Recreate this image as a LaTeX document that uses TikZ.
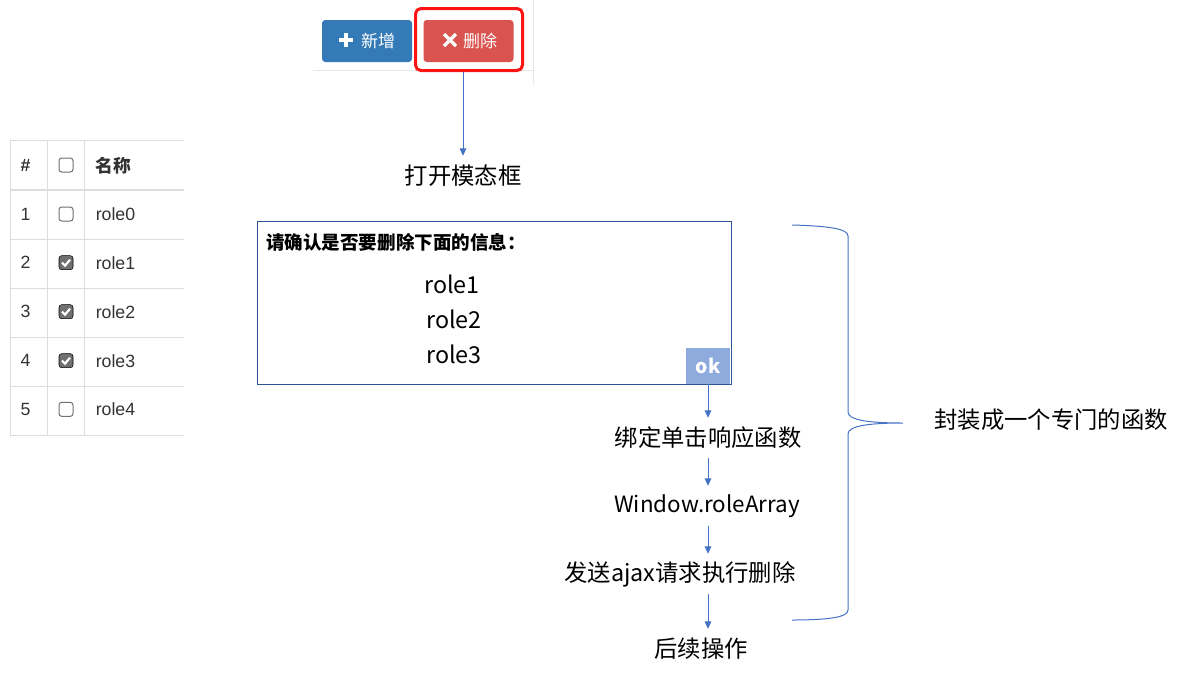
\documentclass[tikz,border=0pt]{standalone}
\usepackage{fontspec}
\setmainfont{Liberation Sans}
\newfontfamily\cjk{Noto Sans CJK SC}
\usetikzlibrary{arrows.meta}

\definecolor{flowblue}{RGB}{68,114,196}
\definecolor{modalblue}{RGB}{47,85,151}
\definecolor{okblue}{RGB}{143,170,220}
\definecolor{btnblue}{RGB}{51,122,183}
\definecolor{btnred}{RGB}{217,83,79}
\definecolor{hired}{RGB}{255,20,20}
\definecolor{tblgray}{RGB}{221,221,221}
\definecolor{tbltext}{RGB}{51,51,51}
\definecolor{framegray}{RGB}{232,232,232}
\definecolor{chkgray}{RGB}{112,112,112}

\begin{document}
\begin{tikzpicture}[x=0.75pt,y=0.75pt,yscale=-1,xscale=1,
  lbl/.style={font=\cjk\fontsize{17.5}{20}\selectfont, inner sep=0pt, minimum height=30pt},
  flow/.style={draw=flowblue, line width=0.75pt, -{Triangle[length=5.5pt,width=5pt]}},
  tblline/.style={draw=tblgray, line width=0.75pt},
  cell/.style={font=\fontsize{13.3}{15}\selectfont, text=tbltext, inner sep=0pt},
  btn/.style={rounded corners=2.5pt, minimum width=67.5pt, minimum height=31.5pt, inner sep=0pt},
  btntext/.style={text=white, inner sep=0pt, font=\cjk\fontsize{12.75}{14}\selectfont},
  boxoff/.style={draw=chkgray, fill=white, line width=0.75pt, rounded corners=2pt},
  boxon/.style={fill=chkgray, rounded corners=2pt}
]
\useasboundingbox (0,0) rectangle (1186,679);

%Toolbar frame
\draw [framegray, line width=0.75pt] (313,70) -- (533,70) ;
\draw [framegray, line width=0.75pt] (533,0) -- (533,85) ;

%Buttons
\draw (367,41) node (addbtn) [btn, fill=btnblue] {} ;
\draw [white, line width=3pt] (339,40) -- (353,40) (346,33) -- (346,47) ;
\draw (378,41) node (addlbl) [btntext] {新增} ;
\draw (468.5,41) node (delbtn) [btn, fill=btnred] {} ;
\draw [white, line width=2.6pt] (444,34) -- (456,46) (444,46) -- (456,34) ;
\draw (480,41) node (dellbl) [btntext] {删除} ;
%Highlight
\draw [hired, line width=2.25pt, rounded corners=4pt] (415.5,8.5) rectangle (522.5,70.5) ;
\coordinate (hilitebot) at (463,71.5) ;

% Text Node
\draw (463,176) node (opendlg) [lbl] {打开模态框} ;
\draw [flow] (hilitebot) -- (hilitebot |- opendlg.north) ;

%Table
\foreach \y in {140,239,288,337,386,435} \draw [tblline] (10,\y) -- (184,\y) ;
\draw [tblline, line width=1.5pt] (10,189.5) -- (184,189.5) ;
\foreach \x in {10,47.5,84.5} \draw [tblline] (\x,140) -- (\x,435) ;
\draw (25.5,165.5) node (hdnum) [cell, font={\fontsize{13.3}{15}\selectfont\bfseries}] {\#} ;
\draw [boxoff] (59,158) rectangle (73,172) ;
\draw (95.5,165.5) node (hdname) [cell, anchor=west, font=\cjk\bfseries\fontsize{13.3}{15}\selectfont] {名称} ;
\foreach \n/\y/\chk in {1/214/0, 2/262.7/1, 3/311.7/1, 4/360.7/1, 5/409.3/0} {
  \pgfmathtruncatemacro{\r}{\n-1}
  \draw (25.5,\y) node (num\n) [cell] {\n} ;
  \ifnum\chk=1
    \draw [boxon] (59,\y-7) rectangle (73,\y+7) ;
    \draw [white, line width=1.6pt] (62,\y) -- (65,\y+3) -- (70,\y-3) ;
  \else
    \draw [boxoff] (59,\y-7) rectangle (73,\y+7) ;
  \fi
  \draw (95.5,\y) node (name\n) [cell, anchor=west] {role\r} ;
}

%Modal
\draw [modalblue, line width=0.75pt] (257,221) rectangle (731,384) ;
\draw (266,242) node (dlgtitle) [anchor=west, inner sep=0pt, font=\cjk\bfseries\fontsize{13.9}{15}\selectfont] {请确认是否要删除下面的信息：} ;
\draw (452,284) node (sel1) [lbl] {role1} ;
\draw (454,319) node (sel2) [lbl] {role2} ;
\draw (454,354) node (sel3) [lbl] {role3} ;
\draw (708,366) node (okbtn) [fill=okblue, minimum width=33pt, minimum height=27pt, inner sep=0pt, text=white, font=\cjk\bfseries\fontsize{14.5}{16}\selectfont] {ok} ;

% Text Node
\draw (708,438) node (bind) [lbl] {绑定单击响应函数} ;
% Text Node
\draw (707,506) node (winarr) [lbl, font=\cjk\fontsize{16.8}{20}\selectfont] {Window.roleArray} ;
% Text Node
\draw (680,574) node (ajax) [lbl] {发送ajax请求执行删除} ;
% Text Node
\draw (701,649) node (after) [lbl] {后续操作} ;
% Text Node
\draw (1051,420) node (wrap) [lbl] {封装成一个专门的函数} ;

%Flow arrows
\draw [flow] (okbtn.south) -- (okbtn.south |- bind.north) ;
\draw [flow] (okbtn.south |- bind.south) -- (okbtn.south |- winarr.north) ;
\draw [flow] (okbtn.south |- winarr.south) -- (okbtn.south |- ajax.north) ;
\draw [flow] (okbtn.south |- ajax.south) -- (okbtn.south |- after.north) ;

%Brace
\draw [flowblue, line width=0.75pt] (792,225) .. controls (830,226) and (848,229) .. (848,236) -- (848,412) .. controls (848,420) and (868,423) .. (903,423) .. controls (868,423) and (848,426) .. (848,434) -- (848,610) .. controls (848,617) and (830,620) .. (792,620) ;

\end{tikzpicture}
\end{document}
